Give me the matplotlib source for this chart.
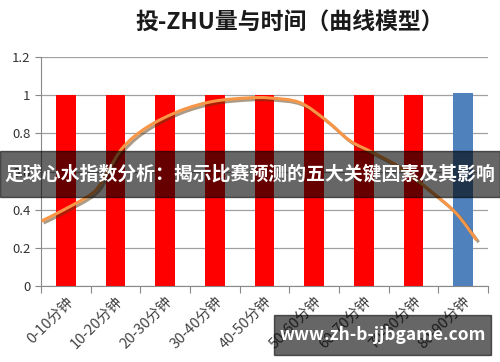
import matplotlib
matplotlib.use("Agg")
import matplotlib.pyplot as plt
import matplotlib.patheffects as pe
from matplotlib.path import Path
from matplotlib.patches import PathPatch
import numpy as np

plt.rcParams['font.family'] = ['Noto Sans CJK SC', 'DejaVu Sans']

########################################################################################################################
# Data

categories = ["0-10分钟", "10-20分钟", "20-30分钟", "30-40分钟", "40-50分钟",
              "50-60分钟", "60-70分钟", "70-80分钟", "80-90分钟"]
bar_values = [1, 1, 1, 1, 1, 1, 1, 1, 1.01]
bar_colors = ["#FF0000"] * 8 + ["#4F81BD"]

# curve (x in category units)
curve_x = [-0.49, -0.06, 0.55, 0.82, 1.15, 1.63, 2.30, 2.96, 3.64, 4.11,
           4.71, 5.25, 5.72, 6.18, 6.72, 7.33, 7.86, 8.27]
curve_y = [0.341, 0.397, 0.49, 0.59, 0.727, 0.832, 0.919, 0.968, 0.986, 0.986,
           0.962, 0.867, 0.762, 0.70, 0.623, 0.501, 0.381, 0.240]

y_ticks = [0, 0.2, 0.4, 0.6, 0.8, 1, 1.2]
y_labels = ["0", "0.2", "0.4", "0.6", "0.8", "1", "1.2"]

title = "投-ZHU量与时间（曲线模型）"
banner = "足球心水指数分析：揭示比赛预测的五大关键因素及其影响"
site = "www.zh-b-jjbgame.com"

########################################################################################################################
# Helper: smooth line through the points (Catmull-Rom drawn as bezier segments)


def smooth_path(xs, ys):
    pts = np.column_stack([xs, ys])
    verts = [pts[0]]
    codes = [Path.MOVETO]
    n = len(pts)
    for i in range(n - 1):
        p0 = pts[max(i - 1, 0)]
        p1 = pts[i]
        p2 = pts[i + 1]
        p3 = pts[min(i + 2, n - 1)]
        c1 = p1 + (p2 - p0) / 6.0
        c2 = p2 - (p3 - p1) / 6.0
        verts += [c1, c2, p2]
        codes += [Path.CURVE4] * 3
    return Path(verts, codes)


########################################################################################################################
# Plot

fig = plt.figure(figsize=(5, 3.62), dpi=100)
ax = fig.add_axes([0.082, 0.21, 0.894, 0.632])

x = np.arange(len(categories))
ax.bar(x, bar_values, width=0.4, color=bar_colors, zorder=2)

line = PathPatch(smooth_path(curve_x, curve_y), facecolor="none", edgecolor="#F79646", lw=2.2, zorder=3,
                 path_effects=[pe.SimpleLineShadow(offset=(1.5, -1.5), shadow_color="#5a3a10", alpha=0.5),
                               pe.Normal()])
ax.add_patch(line)

ax.set_xlim(-0.5, len(categories) - 0.5)
ax.set_ylim(0, 1.2)
ax.set_yticks(y_ticks)
ax.set_yticklabels(y_labels, fontsize=9.5, color="#333333")
ax.yaxis.grid(True, color="#A0A0A0", lw=0.9, zorder=0)

# ticks at category boundaries, labels at centres
ax.set_xticks(np.arange(len(categories) + 1) - 0.5)
ax.set_xticklabels([])
ax.set_xticks(x, minor=True)
ax.set_xticklabels(categories, minor=True, rotation=45, ha="right", va="top",
                   rotation_mode="anchor", fontsize=10.5, color="#444444")
ax.tick_params(axis="x", which="minor", length=0, pad=6)
ax.tick_params(axis="x", which="major", length=5, color="#888888")
ax.tick_params(axis="y", length=4, color="#888888")

for s in ["top", "right"]:
    ax.spines[s].set_visible(False)
for s in ["left", "bottom"]:
    ax.spines[s].set_color("#888888")

fig.text(0.58, 0.935, title, ha="center", va="center", fontsize=16.5, fontweight="bold", color="#1a1a1a")

# overlays
fig.patches.append(plt.Rectangle((0, 0.455), 1, 0.128, transform=fig.transFigure,
                                 color="black", alpha=0.6, zorder=5))
fig.text(0.5, 0.52, banner, ha="center", va="center", fontsize=13.6, fontweight="bold",
         color="white", zorder=6)
fig.patches.append(plt.Rectangle((0.548, 0.02), 0.434, 0.11, transform=fig.transFigure,
                                 color="black", alpha=0.6, zorder=5))
fig.text(0.765, 0.075, site, ha="center", va="center", fontsize=12.5, fontweight="bold",
         color="white", zorder=6)

fig.savefig("out.png", dpi=100)
